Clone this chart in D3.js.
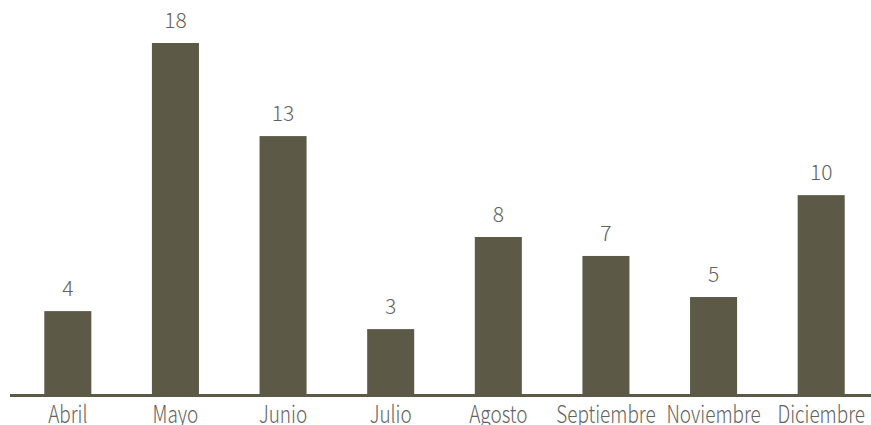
<!DOCTYPE html>
<html>
<head>
<meta charset="utf-8">
<script src="https://cdn.jsdelivr.net/npm/d3@7"></script>
<style>
  html, body { margin: 0; padding: 0; background: #ffffff; }
  svg { display: block; }
</style>
</head>
<body>
<svg id="chart" width="871" height="425"></svg>
<script>
const categories = ["Abril", "Mayo", "Junio", "Julio", "Agosto", "Septiembre", "Noviembre", "Diciembre"];
const values = [4.29, 18, 13.24, 3.37, 8.08, 7.11, 5.01, 10.22];
const valueLabels = ["4", "18", "13", "3", "8", "7", "5", "10"];

const W = 871, H = 425;
const svg = d3.select("#chart");
const FONT = "'Noto Sans CJK KR', 'Noto Sans', sans-serif";
const barColor = "#5c5a47";
const textColor = "#626262";

const x = d3.scaleBand().domain(categories).range([14, 875]).paddingInner(0.563).paddingOuter(0.2815);
const y = d3.scaleLinear().domain([0, 18]).range([395, 43]);

svg.selectAll("rect.bar").data(values).join("rect")
  .attr("class", "bar")
  .attr("x", (d, i) => x(categories[i]))
  .attr("y", d => y(d))
  .attr("width", x.bandwidth())
  .attr("height", d => y(0) - y(d))
  .attr("fill", barColor);

svg.selectAll("text.val").data(values).join("text")
  .attr("class", "val")
  .attr("x", (d, i) => x(categories[i]) + x.bandwidth() / 2)
  .attr("y", d => y(d) - 15)
  .attr("text-anchor", "middle")
  .attr("font-family", FONT)
  .attr("font-weight", 300)
  .attr("font-size", 21)
  .attr("fill", textColor)
  .text((d, i) => valueLabels[i]);

const axis = d3.axisBottom(x).tickSize(0).tickPadding(0);
const g = svg.append("g").attr("transform", `translate(0, ${y(0)})`).call(axis);
g.select(".domain").remove();
g.append("line")
  .attr("x1", 10).attr("x2", 871)
  .attr("y1", 0.5).attr("y2", 0.5)
  .attr("stroke", barColor).attr("stroke-width", 3);
g.selectAll(".tick text")
  .attr("dy", null)
  .attr("y", 28)
  .attr("transform", "scale(0.79,1)")
  .attr("font-family", FONT)
  .attr("font-weight", 300)
  .attr("font-size", 24)
  .attr("fill", textColor);
</script>
</body>
</html>
